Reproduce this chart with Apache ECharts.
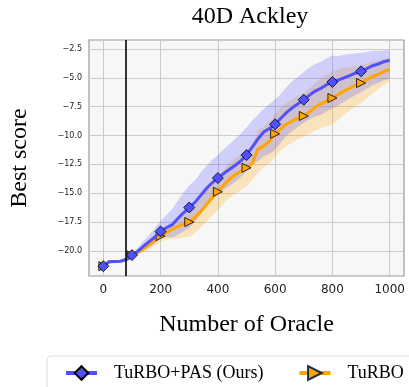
<!DOCTYPE html>
<html>
<head>
<meta charset="utf-8">
<script src="https://cdn.jsdelivr.net/npm/echarts@6/dist/echarts.min.js"></script>
<style>html,body{margin:0;padding:0;background:#fff}#c{width:409px;height:387px}</style>
</head>
<body>
<div id="c"></div>
<script>
const xs = [0,20,40,60,80,100,120,140,160,180,200,220,240,260,280,300,320,340,360,380,400,420,440,460,480,500,520,540,560,580,600,620,640,660,680,700,720,740,760,780,800,820,840,860,880,900,920,940,960,980,1000];
const pasMean = [-21.33,-20.95,-20.92,-20.9,-20.75,-20.37,-20.05,-19.6,-19.2,-18.8,-18.32,-18.0,-17.75,-17.2,-16.7,-16.24,-15.8,-15.2,-14.6,-14.1,-13.69,-13.3,-12.95,-12.6,-12.2,-11.7,-11.0,-10.3,-9.7,-9.4,-9.03,-8.5,-8.0,-7.6,-7.25,-6.9,-6.5,-6.15,-5.9,-5.6,-5.36,-5.2,-5.0,-4.8,-4.6,-4.44,-4.2,-3.95,-3.8,-3.6,-3.48];
const pasUpper = [-21.31,-20.9,-20.87,-20.85,-20.67,-20.22,-19.75,-19.15,-18.6,-18.05,-17.42,-16.9,-16.4,-15.65,-14.95,-14.34,-13.9,-13.2,-12.65,-12.1,-11.69,-11.2,-10.75,-10.3,-9.85,-9.3,-8.7,-8.2,-7.7,-7.3,-6.85,-6.4,-5.8,-5.3,-4.9,-4.5,-4.1,-3.8,-3.6,-3.3,-3.06,-3.1,-3.0,-2.95,-2.9,-2.84,-2.75,-2.65,-2.65,-2.6,-2.58];
const pasLower = [-21.35,-21.0,-20.97,-20.95,-20.83,-20.52,-20.3,-19.95,-19.65,-19.35,-18.92,-18.8,-18.85,-18.6,-18.3,-18.04,-17.5,-16.8,-16.1,-15.55,-15.09,-14.7,-14.35,-14.0,-13.6,-13.1,-12.6,-12.2,-11.8,-11.6,-11.23,-10.6,-10.0,-9.6,-9.25,-8.9,-8.6,-8.35,-8.2,-7.9,-7.66,-7.4,-7.1,-6.8,-6.5,-6.24,-5.95,-5.65,-5.45,-5.2,-5.08];
const turboMean = [-21.33,-20.95,-20.92,-20.9,-20.75,-20.4,-20.15,-19.85,-19.5,-19.1,-18.72,-18.4,-18.15,-17.9,-17.7,-17.5,-17.1,-16.6,-16.0,-15.4,-14.88,-14.3,-13.8,-13.4,-13.1,-12.8,-12.4,-11.2,-10.9,-10.5,-9.85,-9.4,-9.0,-8.75,-8.5,-8.31,-7.95,-7.55,-7.25,-7.0,-6.75,-6.45,-6.15,-5.9,-5.65,-5.45,-5.15,-4.9,-4.7,-4.45,-4.26];
const turboUpper = [-21.31,-20.9,-20.87,-20.85,-20.67,-20.25,-19.95,-19.55,-19.1,-18.65,-18.22,-17.8,-17.45,-17.1,-16.8,-16.5,-16.05,-15.5,-14.8,-14.15,-13.58,-12.95,-12.4,-11.95,-11.6,-11.3,-10.85,-9.6,-9.25,-8.8,-8.1,-7.6,-7.15,-6.85,-6.55,-6.31,-5.9,-5.45,-5.05,-4.75,-4.45,-4.3,-4.15,-4.05,-4.0,-3.95,-3.75,-3.6,-3.5,-3.35,-3.26];
const turboLower = [-21.35,-21.0,-20.97,-20.95,-20.83,-20.5,-20.3,-20.1,-19.85,-19.55,-19.22,-19.05,-18.95,-18.9,-18.85,-18.8,-18.45,-18.0,-17.45,-16.95,-16.48,-15.9,-15.4,-15.05,-14.75,-14.45,-13.9,-13.2,-12.75,-12.45,-11.85,-11.35,-10.9,-10.6,-10.3,-10.11,-9.85,-9.55,-9.35,-9.2,-9.05,-8.65,-8.2,-7.85,-7.5,-7.2,-6.75,-6.35,-6.0,-5.6,-5.31];
const markerXs = [0,100,200,300,400,500,600,700,800,900];
const oracleStart = 80;
const xTicks = [0,200,400,600,800,1000];
const yTicks = [-20,-17.5,-15,-12.5,-10,-7.5,-5,-2.5];
const seriesNames = ['TuRBO+PAS (Ours)','TuRBO'];

const SERIF = '"Liberation Serif","Times New Roman",serif';
const SANS = '"DejaVu Sans",sans-serif';
const BLUE = '#5050ff', ORANGE = '#ffa500';

const pair = (arr) => xs.map((x,i) => [x, arr[i]]);
const markSize = (s) => (v) => (markerXs.indexOf(v[0]) >= 0 ? s : 0);

function band(up, lo, fill, z) {
  return {
    type: 'custom', silent: true, z: z, clip: true,
    data: [[xs[0], lo[0]]],
    renderItem: (params, api) => {
      const pts = [];
      for (let i = 0; i < xs.length; i++) pts.push(api.coord([xs[i], up[i]]));
      for (let i = xs.length - 1; i >= 0; i--) pts.push(api.coord([xs[i], lo[i]]));
      return {type: 'polygon', shape: {points: pts}, style: {fill: fill, stroke: null}};
    }
  };
}

const chart = echarts.init(document.getElementById('c'), null, {renderer:'canvas'});
chart.setOption({
  animation: false,
  backgroundColor: '#fff',
  title: {
    text: '40D Ackley', left: 245, textAlign: 'center', top: 0,
    textStyle: {fontFamily: SERIF, fontSize: 24, fontWeight: 'normal', color: '#000'}
  },
  grid: {left: 87, top: 40, right: 5, bottom: 111, show: true, backgroundColor: '#f7f7f7', borderColor: '#999', borderWidth: 1.2},
  legend: {
    left: 47, top: 356, width: 600,
    data: [
      {name: seriesNames[0]},
      {name: seriesNames[1], itemStyle: {borderColor: '#1c2c4c', borderWidth: 2}}
    ],
    itemWidth: 31, itemHeight: 17, itemGap: 34,
    lineStyle: {width: 4},
    padding: [8, 80, 8, 17],
    backgroundColor: '#fff', borderColor: '#dcdcdc', borderWidth: 1, borderRadius: 4,
    textStyle: {fontFamily: SERIF, fontSize: 18, color: '#000', padding: [0,0,0,12]}
  },
  xAxis: {
    type: 'value', min: -50, max: 1050,
    name: 'Number of Oracle', nameLocation: 'middle', nameGap: 37,
    nameTextStyle: {fontFamily: SERIF, fontSize: 24, color: '#000'},
    axisLine: {show: false},
    axisTick: {show: false, customValues: xTicks},
    axisLabel: {customValues: xTicks, fontFamily: SANS, fontSize: 12, color: '#222', margin: 8,
      formatter: (v) => String(v)},
    splitLine: {show: true, lineStyle: {color: '#cccccc', width: 1}}
  },
  yAxis: {
    type: 'value', min: -22.18, max: -1.72,
    name: 'Best score', nameLocation: 'middle', nameGap: 57,
    nameTextStyle: {fontFamily: SERIF, fontSize: 24, color: '#000'},
    axisLine: {show: false},
    axisTick: {show: false, customValues: yTicks},
    axisLabel: {customValues: yTicks, fontFamily: SANS, fontSize: 8, color: '#222', margin: 7,
      formatter: (v) => (v < 0 ? '\u2212' : '') + Math.abs(v).toFixed(1)},
    splitLine: {show: true, lineStyle: {color: '#cccccc', width: 1}}
  },
  series: [
    band(turboUpper, turboLower, 'rgba(255,165,0,0.24)', 1),
    band(pasUpper, pasLower, 'rgba(80,80,255,0.24)', 2),
    {type: 'line', name: seriesNames[1], data: pair(turboMean), z: 3,
      showSymbol: true, showAllSymbol: true, symbol: 'triangle', symbolRotate: -90, symbolSize: markSize(9),
      lineStyle: {color: ORANGE, width: 3}, itemStyle: {color: ORANGE, borderColor: '#000', borderWidth: 0.8},
      markLine: {silent: true, symbol: 'none', label: {show: false}, lineStyle: {color: '#000', width: 1.6, type: 'solid'},
        data: [{xAxis: oracleStart}]}
    },
    {type: 'line', name: seriesNames[0], data: pair(pasMean), z: 4,
      showSymbol: true, showAllSymbol: true, symbol: 'diamond', symbolSize: markSize(11),
      lineStyle: {color: BLUE, width: 3}, itemStyle: {color: BLUE, borderColor: '#000', borderWidth: 0.8}
    }
  ]
});
</script>
</body>
</html>
